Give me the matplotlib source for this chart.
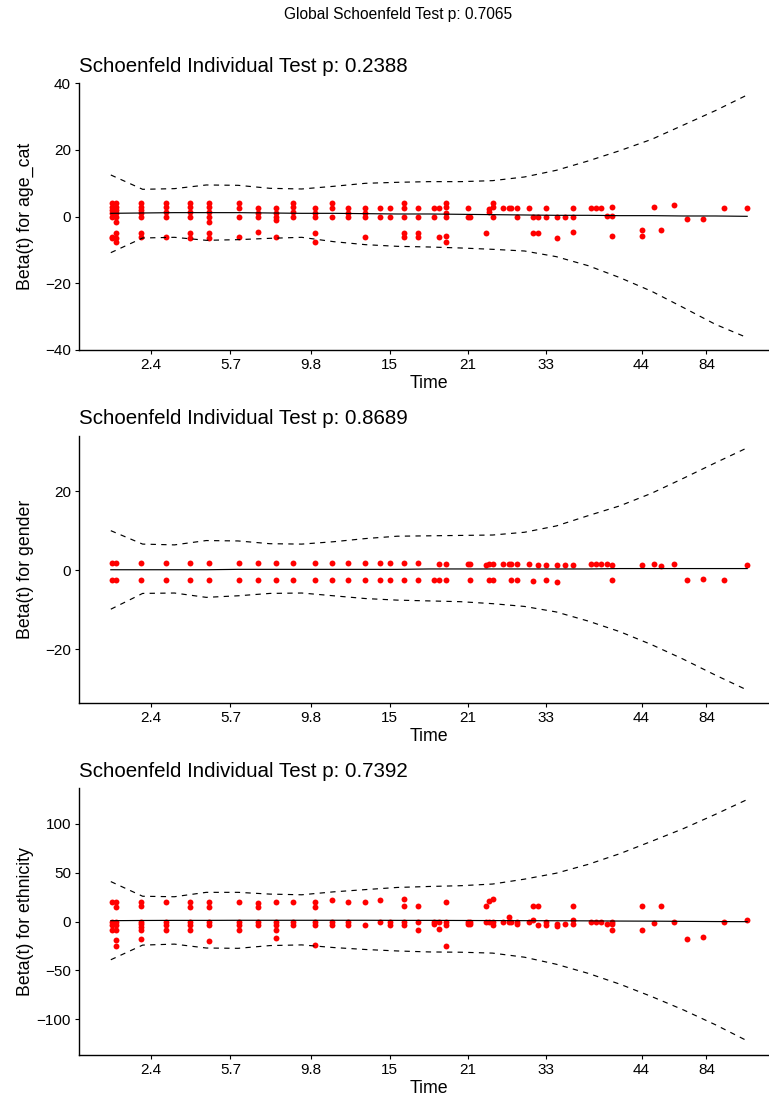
import numpy as np
import matplotlib.pyplot as plt

plt.rcParams['font.family'] = ['Liberation Sans', 'DejaVu Sans']

# KM-transformed event times (0 = first event, 1 = last event)
event_t = [0.002, 0.008, 0.048, 0.086, 0.124, 0.155, 0.202, 0.231, 0.259, 0.286,
           0.321, 0.347, 0.373, 0.400, 0.423, 0.438, 0.461, 0.483, 0.508, 0.515,
           0.527, 0.562, 0.565, 0.590, 0.594, 0.600, 0.617, 0.625, 0.629, 0.638,
           0.657, 0.663, 0.672, 0.684, 0.701, 0.713, 0.727, 0.755, 0.763, 0.771,
           0.779, 0.788, 0.834, 0.854, 0.864, 0.885, 0.906, 0.930, 0.963, 1.000]

time_tick_pos = [0.063, 0.188, 0.314, 0.438, 0.561, 0.684, 0.834, 0.936]
time_tick_labels = ['2.4', '5.7', '9.8', '15', '21', '33', '44', '84']

# scaled Schoenfeld residuals per event time (ties share a time)
age_resid = [
    [4, 3, 2, 1, 0, -6, -6.5], [4, 3, 2, 1, 0, -1.5, -4.8, -6.5, -7.5],
    [4, 3, 2, 1, 0, -4.8, -6.2], [4, 3, 1.5, 0, -6], [4, 3, 1.5, 0, -4.8, -6.5],
    [4, 3, 1.5, 0, -1.5, -4.8, -6.5], [4, 2.5, 0, -6], [2.5, 1, 0, -4.7],
    [2.5, 1, 0, -1, -6], [4, 3, 1.5, 0], [2.5, 1, 0, -5, -7.5], [4, 2.5, 0],
    [2.5, 1, 0], [2.5, 1, 0, -6.2], [2.5, 0], [2.5, 0], [4, 2.5, 0, -4.8, -6.2],
    [2.5, 0, -4.8, -6.2], [2.5, 0], [2.5, -6.2], [4, 3, 1, 0, -5.8, -7.5],
    [2.5, 0], [0], [-4.8], [2.2, 1.3], [4, 2.8, 0], [2.5], [2.5], [2.5], [2.5, 0],
    [2.5], [0, -4.8], [0, -4.8], [2.5, 0], [0, -6.4], [0], [2.5, 0, -4.7],
    [2.5], [2.5], [2.5], [0.2], [3, 0.2, -5.8], [-4.1, -5.8], [3], [-4.1],
    [3.5], [-0.6], [-0.6], [2.5], [2.5]]

gender_resid = [
    [1.8, -2.4], [1.8, -2.6], [1.8, -2.4], [1.8, -2.4], [1.8, -2.4],
    [1.8, -2.4], [1.8, -2.4], [1.8, -2.4], [1.8, -2.4], [1.8, -2.4],
    [1.8, -2.4], [1.8, -2.4], [1.8, -2.4], [1.8, -2.4], [1.8, -2.4],
    [1.8, -2.4], [1.8, -2.4], [1.8, -2.4], [-2.4], [1.5, -2.4],
    [1.5, -2.6], [1.5], [1.5, -2.4], [1.2], [1.5, -2.5], [1.5, -2.5],
    [1.5], [1.5], [1.5, -2.5], [1.5, -2.5], [1.5], [-2.8], [1.2],
    [1.2, -2.6], [1.2, -3.0], [1.2], [1.2], [1.5], [1.5], [1.5], [1.5],
    [1.2, -2.6], [1.2], [1.5], [1.0], [1.5], [-2.5], [-2.2], [-2.5], [1.2]]

eth_resid = [
    [20.5, 0, -3, -8.5], [20.5, 15.4, 0, -3, -8.5, -19, -25],
    [20.5, 16, 0, -2, -5, -8.5, -18], [20.5, 0, -3, -8.5],
    [20.5, 15.4, 0, -3, -8.5], [20.5, 15.4, 0, -3, -19.7], [20.5, 0, -3, -8.5],
    [19, 15.4, 0, -3], [20, 0, -3, -8.5, -17], [20.5, 0, -3],
    [20, 15.4, 0, -3, -24], [22, 0, -3], [20.5, 0, -3], [20.5, -3], [22, 0],
    [0, -3], [22.9, 16.4, 0, -3], [16.4, 0, -8.5], [0, -2], [0, -7.8],
    [20.5, 0, -3, -24.9], [0, -2], [0, -2], [16, 0], [21.5, 0], [23.5, 0, -3],
    [0], [0, 4.5], [0], [0, -2], [0], [16.4, 2], [16.4, -3], [0, -3], [-2, -4],
    [-2], [16.4, 2, -2], [0], [0], [0], [-2], [0, -2, -8.5], [16.4, -8.5],
    [-1], [16.4], [0], [-18], [-15.5], [0], [2]]

# smoothed beta(t) and +/- 2 se bands
curve_t = [0.0, 0.05, 0.1, 0.15, 0.2, 0.25, 0.3, 0.35, 0.4, 0.45, 0.5,
           0.55, 0.6, 0.65, 0.7, 0.75, 0.8, 0.85, 0.9, 0.95, 1.0]

age_fit = [1.0, 1.1, 1.2, 1.2, 1.2, 1.1, 1.0, 1.0, 0.9, 0.8, 0.8,
           0.7, 0.6, 0.5, 0.4, 0.4, 0.3, 0.3, 0.2, 0.2, 0.1]
age_upper = [12.5, 8.2, 8.4, 9.5, 9.4, 8.5, 8.3, 9.1, 10.0, 10.3, 10.5,
             10.5, 10.8, 11.9, 13.9, 16.7, 19.8, 23.2, 27.5, 31.8, 36.5]
age_lower = [-10.8, -6.4, -6.2, -7.1, -6.9, -6.5, -6.2, -7.5, -8.4, -8.9, -9.1,
             -9.4, -9.8, -10.3, -12.0, -14.7, -18.3, -22.4, -27.3, -32.3, -36.3]

gender_fit = [0.1, 0.1, 0.1, 0.1, 0.2, 0.2, 0.2, 0.2, 0.2, 0.2, 0.3,
              0.3, 0.3, 0.3, 0.3, 0.3, 0.4, 0.4, 0.4, 0.4, 0.4]
gender_upper = [10.0, 6.6, 6.4, 7.5, 7.4, 6.7, 6.6, 7.2, 8.0, 8.6, 8.7,
                8.8, 8.9, 9.6, 11.2, 13.8, 16.3, 19.5, 23.3, 27.2, 31.0]
gender_lower = [-9.9, -5.9, -5.8, -6.9, -6.5, -5.9, -5.8, -6.5, -7.2, -7.6, -7.8,
                -8.0, -8.5, -9.2, -10.6, -12.9, -15.6, -18.9, -22.6, -26.6, -30.4]

eth_fit = [1.0, 1.2, 1.3, 1.3, 1.4, 1.4, 1.4, 1.4, 1.4, 1.3, 1.3,
           1.2, 1.1, 1.0, 0.9, 0.8, 0.6, 0.5, 0.3, 0.1, 0.0]
eth_upper = [41, 26, 25.5, 30, 30, 28.2, 27.5, 30.5, 32.8, 35, 36,
             36.8, 38.5, 43.5, 49.6, 58.6, 69.6, 82.3, 95.3, 109.8, 125]
eth_lower = [-39, -24, -23, -27, -27.3, -24.5, -23.8, -26.5, -28.5, -30, -31,
             -31.3, -32.2, -36.4, -43.6, -52.9, -64, -76.7, -90.4, -105.5, -122]

covariates = ['age_cat', 'gender', 'ethnicity']
test_p = [0.2388, 0.8689, 0.7392]
global_p = 0.7065

panels = [
    (age_resid, age_fit, age_upper, age_lower, (-40, 40), [-40, -20, 0, 20, 40]),
    (gender_resid, gender_fit, gender_upper, gender_lower, (-33.6, 34.0), [-20, 0, 20]),
    (eth_resid, eth_fit, eth_upper, eth_lower, (-136.5, 136.5), [-100, -50, 0, 50, 100]),
]

W, H = 769, 1099
fig = plt.figure(figsize=(W / 100, H / 100), dpi=100)
fig.text(398 / W, 1 - 15 / H, f'Global Schoenfeld Test p: {global_p:.4f}',
         ha='center', va='center', fontsize=11.2)

tops = [83.3, 436, 788.3]
ax_h = 266.7
for i, (resid, fit, upper, lower, ylim, yticks) in enumerate(panels):
    ax = fig.add_axes([79 / W, 1 - (tops[i] + ax_h) / H, 700 / W, ax_h / H])
    xs = [t for t, r in zip(event_t, resid) for _ in r]
    ys = [v for r in resid for v in r]
    ax.scatter(xs, ys, s=18, color='#FF0000', linewidths=0, zorder=2)
    ax.plot(curve_t, fit, color='black', lw=0.85, zorder=3)
    ax.plot(curve_t, upper, color='black', lw=0.85, dashes=(4.5, 4.5), zorder=3)
    ax.plot(curve_t, lower, color='black', lw=0.85, dashes=(4.5, 4.5), zorder=3)

    ax.set_xlim(-0.05, 1.05)
    ax.set_ylim(*ylim)
    ax.set_xticks(time_tick_pos)
    ax.set_xticklabels(time_tick_labels)
    ax.set_yticks(yticks)
    for s in ['top', 'right']:
        ax.spines[s].set_visible(False)
    for s in ['left', 'bottom']:
        ax.spines[s].set_linewidth(1.0)
    ax.tick_params(length=2.75, width=0.8, pad=3, labelsize=11, colors='black')

    ax.set_title(f'Schoenfeld Individual Test p: {test_p[i]:.4f}',
                 loc='left', fontsize=14.8, pad=8.4)
    ax.set_xlabel('Time', fontsize=12.8)
    ax.xaxis.set_label_coords(0.5, -25.3 / ax_h)
    ax.set_ylabel(f'Beta(t) for {covariates[i]}', fontsize=12.8)
    ax.yaxis.set_label_coords(-45 / 700, 0.5)

fig.savefig('out.png', dpi=100)
